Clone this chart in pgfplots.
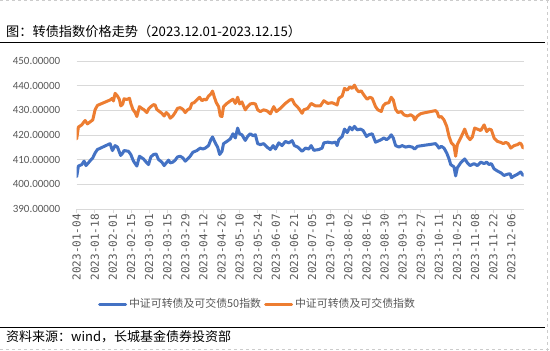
\documentclass[border=0pt]{standalone}
\usepackage{fontspec}
\usepackage{pgfplots}
\pgfplotsset{compat=1.18}
\setmainfont{Carlito}
\newfontfamily\cjk{Noto Sans CJK SC}
\newfontfamily\mono{DejaVu Sans Mono}
\definecolor{cblue}{HTML}{4472C4}
\definecolor{corange}{HTML}{ED7D31}
\definecolor{gridc}{HTML}{D9D9D9}
\definecolor{lab}{HTML}{595959}
\begin{document}
\begin{tikzpicture}[x=1pt,y=1pt]
\fill[white] (0,0) rectangle (550,351);
\path[use as bounding box] (0,0) rectangle (550,351);
\draw[gray!40, dashed, line width=0.6pt] (0,350.3) -- (550,350.3);
\draw[gray!40, dashed, line width=0.6pt] (0,1.5) -- (550,1.5);
\draw[gray!40, dashed, line width=0.6pt] (547,0) -- (547,351);
\node[anchor=west, inner sep=0pt, font=\cjk\fontsize{13.2}{15}\selectfont] at (6,319.3) {图：转债指数价格走势（2023.12.01-2023.12.15）};
\draw[line width=1.2pt] (0,308.7) -- (545,308.7);
\draw[line width=1.2pt] (0,23.3) -- (545,23.3);
\node[anchor=west, inner sep=0pt, font=\cjk\fontsize{13}{15}\selectfont] at (6,14) {资料来源：wind，长城基金债券投资部};
\begin{axis}[
  at={(76.7pt,142pt)}, anchor=south west,
  scale only axis, width=447pt, height=148pt,
  xmin=4, xmax=349.5, ymin=390, ymax=450,
  axis x line*=bottom, axis y line*=left,
  x axis line style={draw=gridc, line width=0.75pt, -},
  y axis line style={draw=none},
  ytick={390,400,...,450},
  ymajorgrids, major grid style={draw=gridc, line width=0.75pt},
  major y tick style={draw=none},
  xtick={4,18,...,340},
  xticklabels={2023-01-04,2023-01-18,2023-02-01,2023-02-15,2023-03-01,2023-03-15,2023-03-29,2023-04-12,2023-04-26,2023-05-10,2023-05-24,2023-06-07,2023-06-21,2023-07-05,2023-07-19,2023-08-02,2023-08-16,2023-08-30,2023-09-13,2023-09-27,2023-10-11,2023-10-25,2023-11-08,2023-11-22,2023-12-06},
  tick align=outside, major tick length=4pt,
  major x tick style={draw=gridc, line width=0.75pt},
  /pgf/number format/assume math mode=true,
  yticklabel={\pgfmathprintnumber[fixed,fixed zerofill,precision=5]{\tick}},
  y tick label style={font=\fontsize{11}{11}\selectfont, text=lab, xshift=-9pt},
  x tick label style={font=\mono\fontsize{11}{11}\selectfont, text=lab, rotate=90, anchor=east, inner sep=1pt},
  legend style={at={(0.4045,-0.642)}, anchor=center, draw=none, fill=none,
    font=\cjk\fontsize{10.9}{11}\selectfont, text=lab, legend columns=2,
    /tikz/every even column/.append style={column sep=1pt}},
  legend image code/.code={\draw[#1] (0pt,0pt) -- (26pt,0pt);},
  every axis plot/.append style={line width=3pt, line join=round, line cap=round, mark=none},
]
\addplot[cblue] coordinates {
(4,403.1)(5.3,407.4)(7.9,408.0)(9.7,409.4)(11.2,407.6)(13,408.7)(14.8,409.8)(16.4,410.7)(18.2,412.7)(20,414.1)(29.8,416.5)(31.6,413.7)(33.7,415.7)(35.5,415.1)(38,411.7)(39.6,412.7)(40.6,413.7)(44,413.4)(45.8,412.1)(47.9,409.4)(50.5,407.4)(52.5,411.4)(55.6,410.3)(58.2,408.7)(59.5,408.0)(61.3,411.1)(63.4,412.1)(65.4,412.3)(67.2,410.1)(69.8,409.0)(71.6,407.6)(73.7,409.0)(75,409.8)(76.3,408.7)(78.3,409.0)(80.1,409.8)(81.9,411.1)(84,411.4)(86.1,410.7)(87.9,409.4)(89.7,410.3)(91.7,411.4)(93.8,413.0)(96.9,413.7)(99.5,414.7)(101.5,414.3)(103.4,414.7)(105.9,415.7)(107.7,418.1)(109,419.2)(111.1,416.8)(112.9,415.1)(114.5,412.1)(116.3,413.4)(117.5,416.5)(120.1,417.4)(122.7,418.4)(124.8,420.5)(126.6,418.8)(128.4,422.8)(129.9,420.5)(131.7,420.1)(134.3,417.8)(136.1,419.4)(138.2,420.5)(140.3,419.7)(142.1,420.1)(143.9,416.5)(145.9,416.1)(148.5,416.5)(151.1,415.1)(153.7,414.1)(155.8,415.7)(157.6,414.3)(160.2,416.8)(162.7,415.7)(165.3,417.4)(167.9,416.8)(170.5,417.7)(172.3,415.7)(174.9,415.1)(178.2,413.4)(180.8,414.7)(183.4,414.3)(185.2,415.7)(187.3,413.8)(191.1,414.1)(193.7,414.7)(195,416.8)(198.1,417.1)(201.4,416.8)(204,417.1)(205.3,415.7)(206.6,418.1)(209.2,419.4)(211,422.4)(213.1,421.0)(215.1,423.2)(216.9,422.1)(218.7,423.5)(220.8,422.1)(223.4,422.4)(225.4,421.8)(228,419.4)(229.8,420.1)(232.4,420.5)(235,417.1)(236.8,417.5)(239.4,418.1)(241.4,418.8)(243.5,418.1)(245.3,418.8)(247.1,420.1)(248.7,418.8)(250.5,415.7)(253.1,415.1)(255.6,415.7)(258.2,415.1)(260.8,415.4)(263.4,415.1)(265.2,414.3)(267.3,415.4)(271,415.7)(281.4,416.5)(282.7,415.7)(284,414.7)(285.8,415.4)(287.9,414.7)(290,412.7)(291.8,410.3)(293.1,408.0)(295.6,407.1)(296.9,403.4)(298.2,406.7)(300.8,408.7)(303.9,410.3)(306,408.7)(308,407.6)(311.1,408.4)(313.7,407.6)(316.3,409.0)(318.9,408.4)(320.9,409.0)(322.7,408.0)(324.5,408.4)(326.6,406.3)(329.2,405.4)(331.8,404.7)(334.3,403.6)(336.9,404.1)(339,404.3)(340,402.7)(342.1,403.4)(344.7,404.1)(347.2,405.0)(349,403.6)
};
\addlegendentry{中证可转债及可交债50指数}
\addplot[corange] coordinates {
(4,418.4)(5.3,423.2)(7.9,424.1)(10.5,425.9)(12.3,424.5)(14.8,425.5)(16.4,426.1)(18.2,430.2)(20,432.0)(29.8,434.2)(31.6,434.9)(32.4,433.8)(33.7,436.9)(35.5,435.8)(37,434.4)(38.1,431.8)(39.6,432.6)(40.6,434.7)(42.7,434.4)(44.8,434.9)(45.8,432.8)(47.4,430.4)(49.2,429.1)(50.5,427.5)(52.5,431.5)(54.3,430.8)(56.1,430.2)(58.2,429.1)(59.7,430.7)(61.3,431.5)(63.4,432.3)(64.6,432.2)(65.9,430.4)(68,429.5)(69.8,428.8)(71.6,427.7)(73.2,429.1)(75,428.2)(76.3,426.8)(78.3,427.7)(80.1,429.1)(81.9,430.8)(84,431.1)(86.1,430.4)(87.9,429.1)(89.7,430.2)(91.7,430.8)(93,432.8)(94.8,433.1)(96.9,434.2)(99,435.3)(100.8,433.9)(102.6,434.5)(104.1,434.2)(105.9,435.8)(107.7,436.6)(109,437.8)(110.3,435.5)(111.9,433.1)(113.7,431.5)(115,427.7)(116.3,427.5)(117.5,431.5)(120.1,432.8)(122.7,433.8)(124.8,434.5)(126.6,432.8)(128.4,435.3)(129.9,432.6)(131.7,433.4)(134.3,430.2)(136.1,431.5)(138.2,432.6)(140.3,432.8)(142.1,432.6)(143.9,430.2)(145.9,429.5)(148.5,430.2)(151.1,429.8)(153.7,428.6)(156.3,431.5)(158.3,429.5)(161.4,430.8)(165.3,432.8)(168.7,434.2)(170.5,434.5)(172.3,432.6)(175.6,430.8)(178.2,428.8)(179.5,430.2)(182.6,430.8)(185.2,432.8)(188.5,431.8)(192.4,431.8)(195,433.9)(198.1,432.8)(201.4,433.1)(205.3,432.2)(206.6,434.9)(209.2,435.8)(211,438.9)(213.1,438.2)(215.1,439.5)(216.9,438.9)(218.7,440.2)(220.3,438.5)(222.1,437.5)(223.9,437.9)(226,436.2)(228.5,434.5)(230.6,435.3)(232.4,434.9)(235,431.5)(236.8,430.2)(239.4,429.5)(240.9,431.8)(242.7,432.8)(245.3,433.1)(247.1,435.3)(248.7,434.2)(250.5,430.4)(252.3,429.1)(254.9,429.5)(256.9,428.2)(259.5,427.7)(262.1,428.2)(264.2,427.5)(265.2,426.1)(267.3,427.7)(269.8,428.6)(271,428.8)(281.4,429.9)(282.7,429.1)(284,427.2)(285.8,427.5)(287.9,426.1)(290,423.5)(291.8,419.4)(293.6,416.8)(295.6,415.7)(296.9,411.4)(298.2,416.1)(300.8,418.8)(303.9,422.4)(306,419.4)(308,418.1)(309.8,419.2)(311.6,422.8)(313.7,422.4)(316.3,421.8)(318.9,424.1)(320.9,421.4)(322.7,422.4)(324.5,422.1)(326.6,418.8)(329.2,417.4)(331.8,417.0)(333.8,416.5)(335.6,417.0)(337.5,416.5)(339.5,414.7)(342.1,415.7)(344.7,416.1)(346.7,416.8)(347.8,416.1)(349,414.7)
};
\addlegendentry{中证可转债及可交债指数}
\end{axis}
\end{tikzpicture}
\end{document}
